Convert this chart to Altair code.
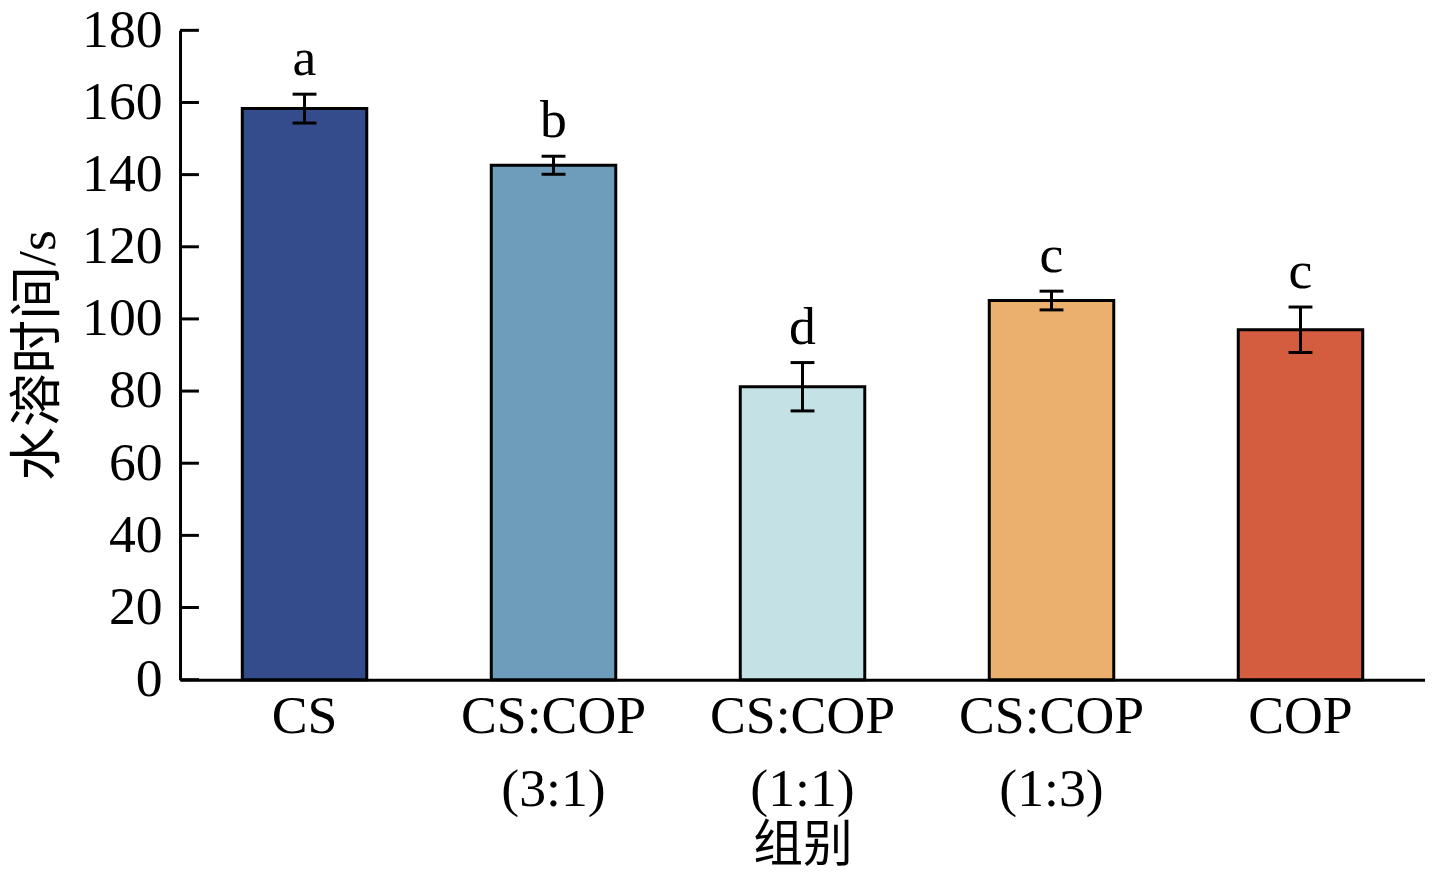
"""Water dissolution time by group, bar chart with error bars and letters."""

import altair as alt
import pandas as pd

GROUPS = ["CS", "CS:COP\n(3:1)", "CS:COP\n(1:1)", "CS:COP\n(1:3)", "COP"]
MEANS = [158.3, 142.6, 81.2, 105.1, 97.0]
ERRORS = [4.0, 2.5, 6.7, 2.6, 6.3]
LETTERS = ["a", "b", "d", "c", "c"]
COLORS = ["#344B8C", "#6E9DBC", "#C4E1E6", "#ECB06E", "#D45C3F"]
Y_TICKS = [0, 20, 40, 60, 80, 100, 120, 140, 160, 180]

FONT = "Liberation Serif, Noto Sans CJK SC"
FS = 54

df = pd.DataFrame({"group": GROUPS, "mean": MEANS, "err": ERRORS, "letter": LETTERS})
df["lo"] = df["mean"] - df["err"]
df["hi"] = df["mean"] + df["err"]
ticks_df = pd.DataFrame({"v": Y_TICKS})

x_scale = alt.Scale(domain=GROUPS, paddingInner=0.5, paddingOuter=0.25)
y_scale = alt.Scale(domain=[0, 180], nice=False)

x_enc = alt.X(
    "group:N",
    sort=GROUPS,
    scale=x_scale,
    title="组别",
    axis=alt.Axis(
        labelExpr="split(datum.label, '\\n')",
        labelLineHeight=74,
        labelLimit=0,
        labelFont=FONT,
        labelFontSize=FS,
        labelColor="black",
        labelAngle=0,
        labelPadding=10,
        ticks=False,
        domainColor="black",
        domainWidth=3,
        titleFont=FONT,
        titleFontSize=50,
        titleFontWeight="normal",
        titleColor="black",
        titlePadding=4,
    ),
)
y_enc = alt.Y(
    "mean:Q",
    scale=y_scale,
    title="水溶时间/s",
    axis=alt.Axis(
        values=Y_TICKS,
        grid=False,
        ticks=False,
        labelFont=FONT,
        labelFontSize=FS,
        labelColor="black",
        labelPadding=18,
        domainColor="black",
        domainWidth=3,
        titleFont=FONT,
        titleFontSize=FS,
        titleFontWeight="normal",
        titleColor="black",
        titlePadding=16,
    ),
)

bars = (
    alt.Chart(df)
    .mark_bar(stroke="black", strokeWidth=3)
    .encode(
        x=x_enc,
        y=y_enc,
        color=alt.Color("group:N", scale=alt.Scale(domain=GROUPS, range=COLORS), legend=None),
    )
)

err_line = (
    alt.Chart(df)
    .mark_rule(color="black", strokeWidth=3)
    .encode(x=alt.X("group:N", sort=GROUPS), y="lo:Q", y2="hi:Q")
)
cap_lo = (
    alt.Chart(df)
    .mark_tick(color="black", size=24, thickness=3, opacity=1)
    .encode(x=alt.X("group:N", sort=GROUPS), y="lo:Q")
)
cap_hi = (
    alt.Chart(df)
    .mark_tick(color="black", size=24, thickness=3, opacity=1)
    .encode(x=alt.X("group:N", sort=GROUPS), y="hi:Q")
)

letters = (
    alt.Chart(df)
    .mark_text(font=FONT, fontSize=FS, color="black", baseline="bottom", dy=-8)
    .encode(x=alt.X("group:N", sort=GROUPS), y="hi:Q", text="letter:N")
)

inner_ticks = (
    alt.Chart(ticks_df)
    .mark_rule(color="black", strokeWidth=3)
    .encode(y=alt.Y("v:Q", scale=y_scale), x=alt.value(0), x2=alt.value(19))
)

chart = (
    alt.layer(bars, err_line, cap_lo, cap_hi, letters, inner_ticks)
    .properties(
        width=1252,
        height=653,
        padding={"top": 20, "right": 0, "bottom": 198, "left": 173},
        autosize=alt.AutoSizeParams(type="none"),
        background="white",
    )
    .configure_view(stroke=None)
)

chart.save("out.html", embed_options={"renderer": "svg", "actions": False})
